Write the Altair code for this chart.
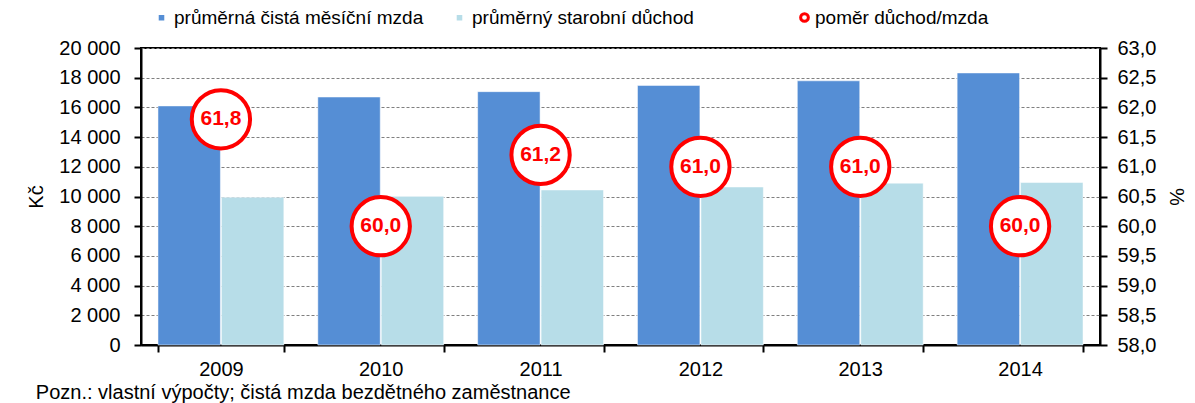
import altair as alt
import pandas as pd

years = ["2009", "2010", "2011", "2012", "2013", "2014"]
wage = [16100, 16700, 17060, 17480, 17790, 18320]
pension = [9950, 10010, 10440, 10640, 10900, 10940]
ratio = [61.8, 60.0, 61.2, 61.0, 61.0, 60.0]

s_wage = "průměrná čistá měsíční mzda"
s_pens = "průměrný starobní důchod"
s_ratio = "poměr důchod/mzda"

bars_df = pd.DataFrame(
    {"year": years * 2,
     "series": [s_wage] * len(years) + [s_pens] * len(years),
     "value": wage + pension}
)
ratio_df = pd.DataFrame({"year": years, "ratio": ratio,
                         "series": [s_ratio] * len(years),
                         "label": [f"{r:.1f}".replace(".", ",") for r in ratio]})

FONT = "Liberation Sans"
BLUE = "#558ED5"
LIGHT = "#B7DDE8"
RED = "#FF0000"

x_enc = alt.X("year:N", title=None,
              scale=alt.Scale(paddingInner=0.2125, paddingOuter=0.10625),
              axis=alt.Axis(labelAngle=0, tickBand="extent", tickSize=7,
                            labelPadding=7, domainWidth=2, tickWidth=2,
                            domainColor="black", tickColor="black"))

bars = alt.Chart(bars_df).mark_bar(stroke="white", strokeWidth=1, strokeOpacity=0.5).encode(
    x=x_enc,
    xOffset=alt.XOffset("series:N", sort=[s_wage, s_pens],
                        scale=alt.Scale(paddingInner=0.016)),
    y=alt.Y("value:Q", title="Kč",
            scale=alt.Scale(domain=[0, 20000]),
            axis=alt.Axis(values=list(range(0, 20001, 2000)), tickSize=7,
                          labelPadding=14, titlePadding=12,
                          labelExpr="replace(format(datum.value, ','), ',', ' ')",
                          grid=True, gridDash=[3, 2], gridColor="#7f7f7f",
                          domainWidth=2, tickWidth=2,
                          domainColor="black", tickColor="black")),
    color=alt.Color("series:N",
                    scale=alt.Scale(domain=[s_wage, s_pens],
                                    range=[BLUE, LIGHT]),
                    legend=alt.Legend(
                        title=None, orient="none", direction="horizontal",
                        legendX=11, legendY=-40, symbolType="square",
                        symbolSize=50, labelFontSize=19, labelFont=FONT,
                        labelLimit=400, columnPadding=26, labelOffset=3)),
)

y_right = alt.Y("ratio:Q", title="%",
                scale=alt.Scale(domain=[58, 63]),
                axis=alt.Axis(orient="right",
                              values=[58 + 0.5 * i for i in range(11)],
                              tickSize=7, labelPadding=10, titlePadding=10,
                              labelExpr="replace(format(datum.value, '.1f'), '.', ',')",
                              grid=False, domainWidth=2, tickWidth=2,
                              domainColor="black", tickColor="black"))

points = alt.Chart(ratio_df).mark_point(
    shape="circle", filled=True, fill="white", strokeWidth=4,
    size=3400, opacity=1
).encode(
    x=alt.X("year:N"), y=y_right,
    stroke=alt.Stroke("series:N", scale=alt.Scale(domain=[s_ratio], range=[RED]),
                      legend=alt.Legend(
                          title=None, orient="none", direction="horizontal",
                          legendX=654, legendY=-40, symbolType="circle",
                          symbolSize=60, symbolFillColor="white",
                          symbolStrokeWidth=3, labelFontSize=19,
                          labelLimit=400, labelFont=FONT, labelOffset=1)),
)

labels = alt.Chart(ratio_df).mark_text(
    font=FONT, fontSize=21, fontWeight="bold", color=RED
).encode(x=alt.X("year:N"), y=y_right, text="label:N")

right = alt.layer(points, labels)

chart = alt.layer(bars, right).resolve_scale(y="independent").properties(
    width=1179, height=297,
    autosize=alt.AutoSizeParams(type="fit-x", contains="padding"),
    padding={"left": 18, "top": 30, "right": 1, "bottom": 0},
    title=alt.TitleParams(
        text="Pozn.: vlastní výpočty; čistá mzda bezdětného zaměstnance",
        orient="bottom", anchor="start", frame="bounds",
        font=FONT, fontSize=20, fontWeight="normal", color="black",
        offset=4, dx=9),
).configure_view(stroke="black", strokeWidth=2).configure_axis(
    labelFont=FONT, labelFontSize=20, titleFont=FONT, titleFontSize=20,
    titleFontWeight="normal", labelColor="black", titleColor="black",
).configure_legend(labelColor="black")

chart.save("out.html", embed_options={"renderer": "svg", "actions": False})
